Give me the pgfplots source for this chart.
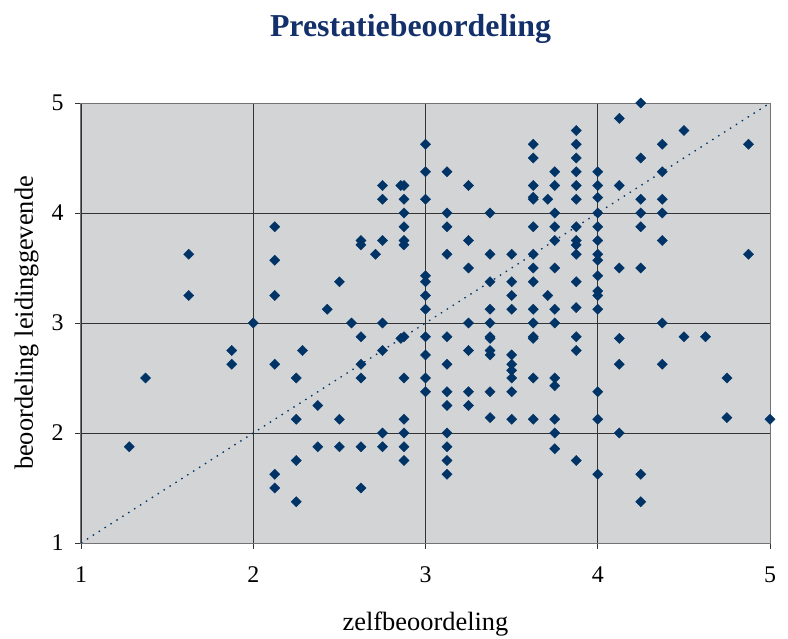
\documentclass[border=0pt]{standalone}
\usepackage{pgfplots}
\pgfplotsset{compat=1.18}
\usepackage{fontspec}
\setmainfont{Liberation Serif}
\definecolor{navy}{HTML}{003366}
\definecolor{titlenavy}{HTML}{13306B}
\definecolor{bggray}{HTML}{D3D4D6}
\begin{document}
\begin{tikzpicture}
\path[use as bounding box] (-81bp,-96bp) rectangle (707bp,543bp);
\begin{axis}[
  scale only axis,
  width=689bp, height=440bp,
  xmin=1, xmax=5, ymin=1, ymax=5,
  xtick={1,2,3,4,5}, ytick={1,2,3,4,5},
  axis background/.style={fill=bggray},
  grid=major,
  major grid style={draw=black!80, line width=0.8bp},
  axis line style={draw=black!55, line width=1bp},
  tick style={draw=black!80, line width=0.8bp},
  tick align=outside, major tick length=6bp,
  xtick pos=bottom, ytick pos=left,
  /pgf/number format/assume math mode=true,
  ticklabel style={font=\fontsize{24}{26}\selectfont},
  xticklabel style={yshift=-14bp},
  yticklabel style={xshift=-8bp},
  xlabel={zelfbeoordeling},
  ylabel={beoordeling leidinggevende},
  label style={font=\fontsize{26.5}{28}\selectfont},
  xlabel style={yshift=-22bp},
  ylabel style={yshift=6bp},
  title={Prestatiebeoordeling},
  title style={font=\fontsize{32}{34}\selectfont\bfseries, color=titlenavy, yshift=50bp, xshift=-15bp},
  clip=false,
]
\addplot[navy, line width=1.3bp, dash pattern=on 1.5bp off 5.5bp, forget plot] coordinates {(1,1) (5,5)};
\addplot[only marks, mark=square*, mark size=3.6bp, mark options={rotate=45, draw=navy, fill=navy}] coordinates {
(1.28,1.875) (1.375,2.5) (1.625,3.625) (1.625,3.25) (1.875,2.75) (1.875,2.625) (2,3)
(2.125,3.875) (2.125,3.57) (2.125,3.25) (2.125,2.625) (2.125,1.625) (2.125,1.5)
(2.25,2.5) (2.25,2.125) (2.25,1.75) (2.25,1.375)
(2.286,2.75)
(2.375,2.25) (2.375,1.875)
(2.43,3.125)
(2.5,3.375) (2.5,2.125) (2.5,1.875)
(2.57,3.0)
(2.625,3.75) (2.625,3.71) (2.625,2.875) (2.625,2.625) (2.625,2.5) (2.625,1.875) (2.625,1.5)
(2.71,3.625)
(2.75,4.25) (2.75,4.125) (2.75,3.75) (2.75,3.0) (2.75,2.75) (2.75,2.0) (2.75,1.875)
(2.857,4.25) (2.857,2.86)
(2.875,4.25) (2.875,4.125) (2.875,4.0) (2.875,3.875) (2.875,3.75) (2.875,3.71) (2.875,2.875) (2.875,2.5) (2.875,2.125) (2.875,2.0) (2.875,1.875) (2.875,1.75)
(3,4.625) (3,4.375) (3,4.125) (3,3.43) (3,3.375) (3,3.25) (3,3.125) (3,2.875) (3,2.71) (3,2.5) (3,2.375)
(3.125,4.375) (3.125,4.0) (3.125,3.875) (3.125,3.625) (3.125,2.875) (3.125,2.625) (3.125,2.375) (3.125,2.25) (3.125,2.0) (3.125,1.875) (3.125,1.75) (3.125,1.625)
(3.25,4.25) (3.25,3.75) (3.25,3.5) (3.25,3.0) (3.25,2.75) (3.25,2.375) (3.25,2.25)
(3.375,4.0) (3.375,3.625) (3.375,3.375) (3.375,3.125) (3.375,3.0) (3.375,2.875) (3.375,2.86) (3.375,2.75) (3.375,2.71) (3.375,2.375) (3.375,2.14)
(3.5,3.625) (3.5,3.375) (3.5,3.25) (3.5,3.125) (3.5,2.71) (3.5,2.625) (3.5,2.57) (3.5,2.5) (3.5,2.375) (3.5,2.125)
(3.625,4.625) (3.625,4.5) (3.625,4.25) (3.625,4.143) (3.625,4.125) (3.625,3.875) (3.625,3.625) (3.625,3.5) (3.625,3.375) (3.625,3.125) (3.625,3.0) (3.625,2.875) (3.625,2.86) (3.625,2.5) (3.625,2.125)
(3.71,4.125) (3.71,3.25)
(3.75,4.375) (3.75,4.25) (3.75,4.0) (3.75,3.875) (3.75,3.75) (3.75,3.5) (3.75,3.125) (3.75,3.0) (3.75,2.5) (3.75,2.43) (3.75,2.125) (3.75,2.0) (3.75,1.857)
(3.875,4.75) (3.875,4.625) (3.875,4.5) (3.875,4.375) (3.875,4.25) (3.875,4.125) (3.875,3.875) (3.875,3.75) (3.875,3.71) (3.875,3.625) (3.875,3.375) (3.875,3.14) (3.875,2.875) (3.875,2.75) (3.875,1.75)
(4,4.375) (4,4.25) (4,4.14) (4,4.0) (4,3.875) (4,3.75) (4,3.625) (4,3.57) (4,3.43) (4,3.29) (4,3.25) (4,3.125) (4,2.375) (4,2.125) (4,1.625)
(4.125,4.86) (4.125,4.25) (4.125,3.5) (4.125,2.86) (4.125,2.625) (4.125,2.0)
(4.25,5.0) (4.25,4.5) (4.25,4.125) (4.25,4.0) (4.25,3.875) (4.25,3.5) (4.25,1.625) (4.25,1.375)
(4.375,4.625) (4.375,4.375) (4.375,4.125) (4.375,4.0) (4.375,3.75) (4.375,3.0) (4.375,2.625)
(4.5,4.75) (4.5,2.875)
(4.625,2.875)
(4.75,2.5) (4.75,2.14)
(4.875,4.625) (4.875,3.625)
(5,2.125)
};
\end{axis}
\end{tikzpicture}
\end{document}
